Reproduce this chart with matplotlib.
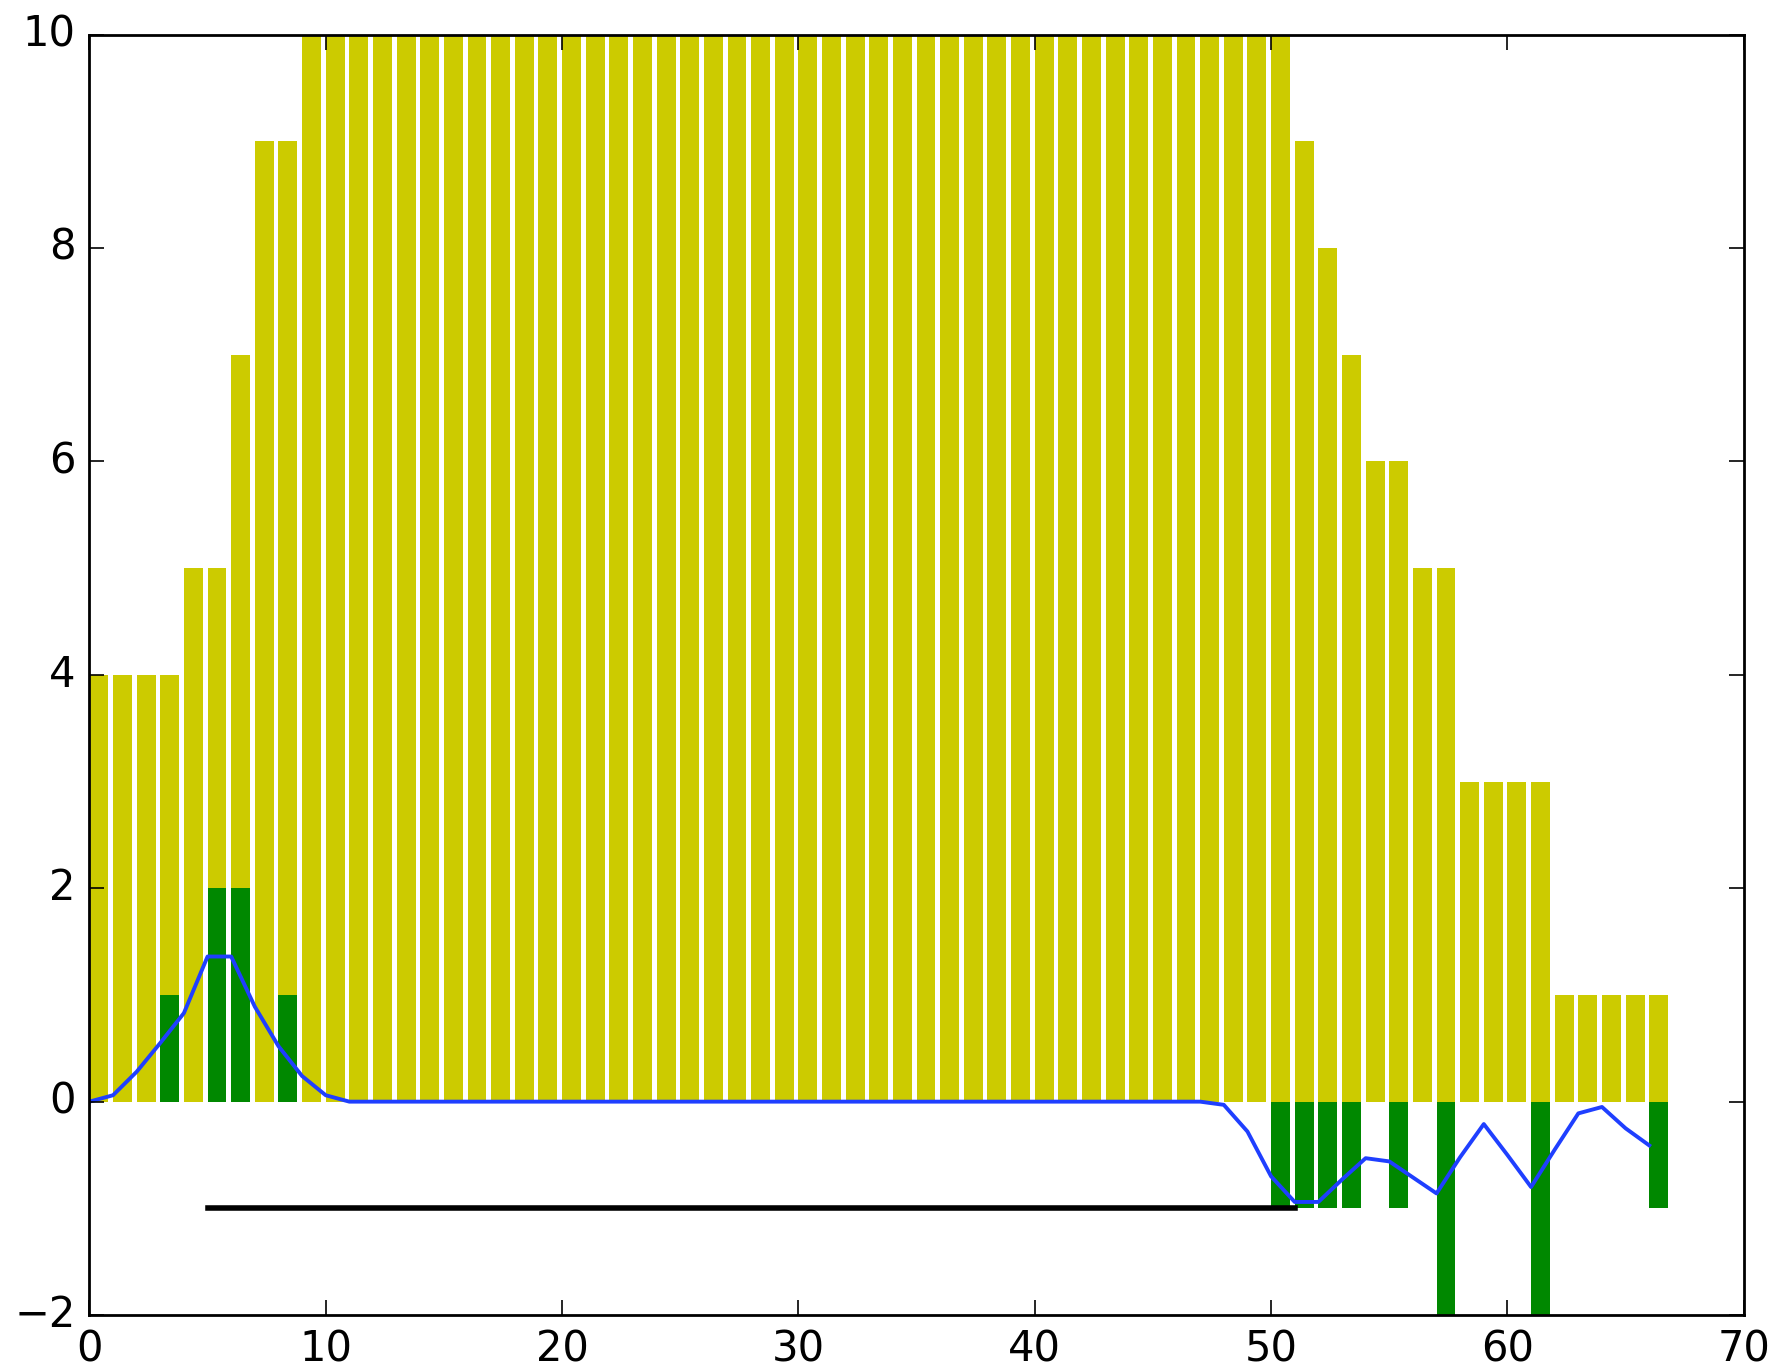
import matplotlib
matplotlib.use("Agg")
import matplotlib.pyplot as plt
import numpy as np

# bar heights, one per integer position starting at 0
totals = [4, 4, 4, 4, 5, 5, 7, 9, 9] + [10] * 42 + [9, 8, 7, 6, 6, 5, 5, 3, 3, 3, 3, 1, 1, 1, 1, 1]

diff_x = [3, 5, 6, 8, 50, 51, 52, 53, 55, 57, 61, 66]
diff_h = [1, 2, 2, 1, -1, -1, -1, -1, -1, -2, -2, -1]

smooth = ([0.0, 0.06, 0.28, 0.55, 0.83, 1.36, 1.36, 0.89, 0.52, 0.24, 0.06]
          + [0.0] * 37
          + [-0.03, -0.28, -0.70, -0.94, -0.94, -0.73, -0.53, -0.56, -0.71, -0.86,
             -0.52, -0.21, -0.50, -0.80, -0.45, -0.11, -0.05, -0.25, -0.41])

run_start, run_end, run_level = 5, 51, -1

plt.style.use("classic")
plt.rcParams["font.size"] = 15

fig = plt.figure(figsize=(8.885, 6.855), dpi=200)
ax = fig.add_axes([0.0503, 0.0408, 0.931, 0.934])

ax.bar(np.arange(len(totals)), totals, width=0.8, align="edge",
       color="#cccb00", linewidth=0)
ax.bar(diff_x, diff_h, width=0.8, align="edge", color="#008800", linewidth=0)
ax.plot(np.arange(len(smooth)), smooth, color="#1f3fff", linewidth=1.4)
ax.plot([run_start, run_end], [run_level, run_level], color="black", linewidth=2)

ax.set_xlim(0, 70)
ax.set_ylim(-2, 10)
ax.tick_params(direction="in", length=5.5, width=0.6, pad=5, labelsize=15,
               top=True, right=True)
for s in ax.spines.values():
    s.set_linewidth(1.0)

fig.savefig("out.png", dpi=200)
